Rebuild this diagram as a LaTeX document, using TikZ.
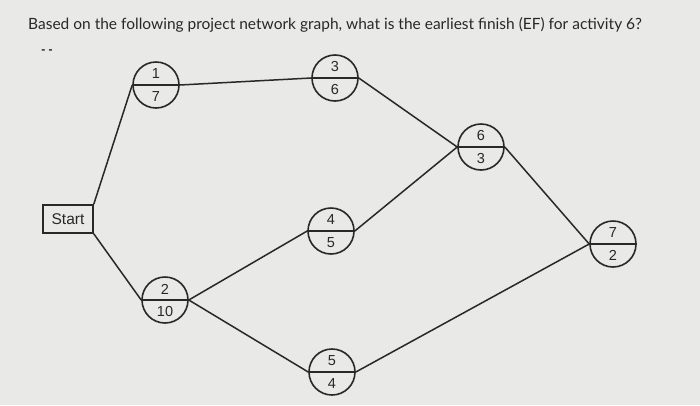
\documentclass[tikz,border=0pt]{standalone}
\usepackage{fontspec}
\setmainfont{Liberation Sans}
\newfontfamily\titlefont{Lato}
\definecolor{bg}{RGB}{233,233,231}
\definecolor{ink}{RGB}{40,40,40}
\begin{document}
\begin{tikzpicture}[x=1pt,y=-1pt,
  act/.style={circle,draw=ink,line width=1.6pt,minimum size=46pt,inner sep=0pt},
  num/.style={font=\fontsize{14.5}{14.5}\selectfont,text=ink,inner sep=0pt},
  edge/.style={draw=ink,line width=1.5pt},
  startbox/.style={draw=ink,line width=1.5pt,minimum width=50pt,minimum height=28pt,inner sep=0pt,font=\fontsize{15.5}{15.5}\selectfont,text=ink}]
\fill[bg] (0,0) rectangle (700,405);
\useasboundingbox (0,0) rectangle (700,405);
\node[anchor=west,font=\titlefont\fontsize{15.5}{16}\selectfont,text=ink,inner sep=0pt] (title) at (28,25) {Based on the following project network graph, what is the earliest finish (EF) for activity 6?};
\node[font=\bfseries\fontsize{12}{12}\selectfont,text=ink,inner sep=0pt] (dots) at (47,52) {- -};
\node[startbox] (start) at (68,219) {Start};
\newcommand{\actnode}[5]{%
  \node[act] (#1) at (#2,#3) {};
  \draw[ink,line width=1.6pt] (#1.west) -- (#1.east);
  \node[num] (#1t) at (#2,#3-11) {#4};
  \node[num] (#1b) at (#2,#3+11.5) {#5};
}
\actnode{n1}{156}{85}{1}{7}
\actnode{n2}{165}{300}{2}{10}
\actnode{n3}{335}{78}{3}{6}
\actnode{n4}{331}{231}{4}{5}
\actnode{n5}{332}{372}{5}{4}
\actnode{n6}{481}{147}{6}{3}
\actnode{n7}{613}{244}{7}{2}
\path[edge] (start.north east) -- (n1.west);
\path[edge] (start.south east) -- (n2.west);
\path[edge] (n1.east) -- (n3.west);
\path[edge] (n3.east) -- (n6.west);
\path[edge] (n4.east) -- (n6.west);
\path[edge] (n2.east) -- (n4.west);
\path[edge] (n2.east) -- (n5.west);
\path[edge] (n6.east) -- (n7.west);
\path[edge] (n5.east) -- (n7.west);
\end{tikzpicture}
\end{document}
